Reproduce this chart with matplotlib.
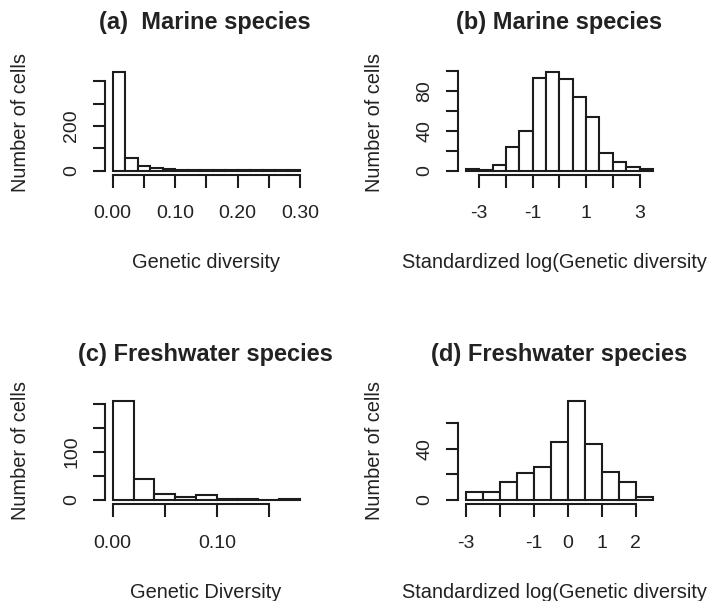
# Histograms of genetic diversity, marine vs freshwater species (R base-graphics look)
import numpy as np
import matplotlib
matplotlib.use("Agg")
import matplotlib.pyplot as plt

plt.rcParams['font.family'] = ['Liberation Sans', 'DejaVu Sans']

# ## Data
# (a) marine, raw genetic diversity
a_edges = [0.00, 0.02, 0.04, 0.06, 0.08, 0.10, 0.12, 0.14, 0.16, 0.18, 0.20,
           0.22, 0.24, 0.26, 0.28, 0.30]
a_counts = [440, 57, 19, 12, 6, 3, 2, 2, 1, 2, 1, 1, 2, 1, 1]
a_xticks = [0.00, 0.05, 0.10, 0.15, 0.20, 0.25, 0.30]
a_xlabels = ['0.00', '', '0.10', '', '0.20', '', '0.30']
a_yticks = [0, 100, 200, 300, 400]
a_ylabels = ['0', '', '200', '', '']

# (b) marine, standardized log
b_edges = [-3.5, -3.0, -2.5, -2.0, -1.5, -1.0, -0.5, 0.0, 0.5, 1.0, 1.5,
           2.0, 2.5, 3.0, 3.5]
b_counts = [2, 1, 6, 24, 40, 93, 99, 92, 74, 54, 18, 9, 4, 2]
b_xticks = [-3, -2, -1, 0, 1, 2, 3]
b_xlabels = ['-3', '', '-1', '', '1', '', '3']
b_yticks = [0, 20, 40, 60, 80, 100]
b_ylabels = ['0', '', '40', '', '80', '']

# (c) freshwater, raw genetic diversity
c_edges = [0.00, 0.02, 0.04, 0.06, 0.08, 0.10, 0.12, 0.14, 0.16, 0.18]
c_counts = [205, 44, 12, 6, 10, 2, 2, 1, 2]
c_xticks = [0.00, 0.05, 0.10, 0.15]
c_xlabels = ['0.00', '', '0.10', '']
c_yticks = [0, 50, 100, 150, 200]
c_ylabels = ['0', '', '100', '', '']

# (d) freshwater, standardized log
d_edges = [-3.0, -2.5, -2.0, -1.5, -1.0, -0.5, 0.0, 0.5, 1.0, 1.5, 2.0, 2.5]
d_counts = [6, 6, 14, 21, 26, 45, 77, 44, 22, 14, 2]
d_xticks = [-3, -2, -1, 0, 1, 2]
d_xlabels = ['-3', '', '-1', '0', '1', '2']
d_yticks = [0, 20, 40, 60]
d_ylabels = ['0', '', '40', '']

W, H = 710, 601
fig = plt.figure(figsize=(W / 100, H / 100), dpi=100)

ink = '#1c1c1c'
lw = 1.5


def px_rect(left, top, right, bottom):
    # pixel box -> figure fraction rect
    return [left / W, 1 - bottom / H, (right - left) / W, (bottom - top) / H]


def rhist(rect, edges, counts, xticks, xlabels, yticks, ylabels):
    ax = fig.add_axes(rect)
    edges = np.asarray(edges)
    ax.bar(edges[:-1], counts, width=np.diff(edges), align='edge',
           facecolor='white', edgecolor=ink, linewidth=lw)
    # R pads the data range by 4% on each side
    xr = edges[-1] - edges[0]
    ax.set_xlim(edges[0] - 0.04 * xr, edges[-1] + 0.04 * xr)
    ym = max(counts)
    ax.set_ylim(-0.04 * ym, 1.04 * ym)
    for s in ['top', 'right']:
        ax.spines[s].set_visible(False)
    for s in ['left', 'bottom']:
        ax.spines[s].set_linewidth(lw)
        ax.spines[s].set_color(ink)
    ax.spines['bottom'].set_bounds(xticks[0], xticks[-1])
    ax.spines['left'].set_bounds(yticks[0], yticks[-1])
    ax.set_xticks(xticks)
    ax.set_xticklabels(xlabels)
    ax.set_yticks(yticks)
    ax.set_yticklabels(ylabels, rotation=90, va='center')
    ax.tick_params(axis='both', direction='out', length=9, width=lw,
                   color=ink, labelsize=14, labelcolor='#222222')
    ax.tick_params(axis='x', pad=13)
    ax.tick_params(axis='y', pad=9)
    ax.patch.set_visible(False)
    return ax


top_row = (68.5, 174.6)
bot_row = (397.5, 504.0)
left_col = (105.2, 307.5)
right_col = (458.3, 660.4)

rhist(px_rect(left_col[0], top_row[0], left_col[1], top_row[1]),
      a_edges, a_counts, a_xticks, a_xlabels, a_yticks, a_ylabels)
rhist(px_rect(right_col[0], top_row[0], right_col[1], top_row[1]),
      b_edges, b_counts, b_xticks, b_xlabels, b_yticks, b_ylabels)
rhist(px_rect(left_col[0], bot_row[0], left_col[1], bot_row[1]),
      c_edges, c_counts, c_xticks, c_xlabels, c_yticks, c_ylabels)
rhist(px_rect(right_col[0], bot_row[0], right_col[1], bot_row[1]),
      d_edges, d_counts, d_xticks, d_xlabels, d_yticks, d_ylabels)


def ftext(x, y, s, **kw):
    fig.text(x / W, 1 - y / H, s, color='#222222', **kw)


# titles
ftext(205, 28.5, '(a)  Marine species', ha='center', va='baseline',
      fontsize=17, fontweight='bold')
ftext(559, 28.5, '(b) Marine species', ha='center', va='baseline',
      fontsize=17, fontweight='bold')
ftext(205.5, 361, '(c) Freshwater species', ha='center', va='baseline',
      fontsize=17, fontweight='bold')
ftext(559, 361, '(d) Freshwater species', ha='center', va='baseline',
      fontsize=17, fontweight='bold')

# x axis labels
ftext(206, 262, 'Genetic diversity', ha='center', va='center', fontsize=14.4)
ftext(402, 262, 'Standardized log(Genetic diversity', ha='left', va='center',
      fontsize=14.4)
ftext(206, 592, 'Genetic Diversity', ha='center', va='center', fontsize=14.4)
ftext(402, 592, 'Standardized log(Genetic diversity', ha='left', va='center',
      fontsize=14.4)

# y axis labels
for x, y in [(20.5, 122), (374, 122), (20.5, 451), (374, 451)]:
    ftext(x, y, 'Number of cells', ha='center', va='center', rotation=90,
          fontsize=14.4)

fig.savefig('out.png', dpi=100)
